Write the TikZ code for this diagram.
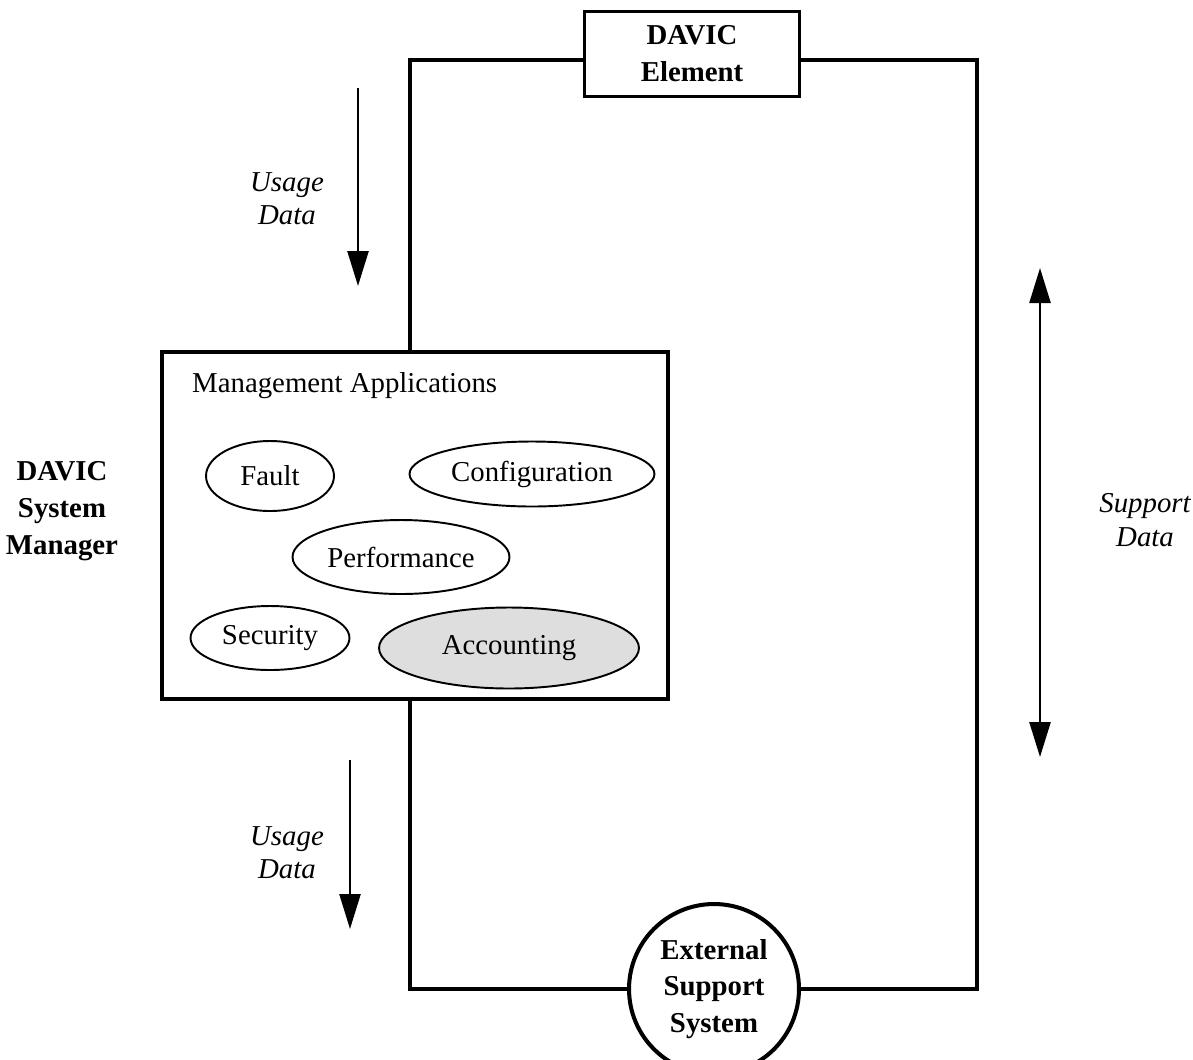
\documentclass[tikz,border=0pt]{standalone}
\usepackage{fontspec}
\setmainfont{Liberation Serif}
\usetikzlibrary{arrows.meta,shapes.geometric,positioning}

\newcommand{\figfont}{\fontsize{16.4}{21}\selectfont}

\tikzset{
  loopline/.style={line width=2.3pt},
  unit/.style={draw, line width=1.8pt, align=center, font=\figfont\bfseries},
  app/.style={draw, ellipse, line width=1.1pt, inner sep=0pt},
  flow/.style={line width=1.4pt, -{Triangle[length=0.7cm,width=0.42cm]}},
  lbl/.style={align=center, font=\fontsize{16.4}{19}\selectfont\itshape},
}

\begin{document}
\begin{tikzpicture}[x=0.02cm,y=-0.02cm,
  every node/.append style={font=\figfont}]
\useasboundingbox (0,0) rectangle (1193,1059);
% element and manager
\node[unit, minimum width=4.3cm, minimum height=1.7cm] (elem) at (692,54) {DAVIC\\Element};
\node[draw, line width=1.8pt, minimum width=10.12cm, minimum height=6.94cm] (mgr) at (415,525.5) {};
\node[anchor=west] (mgrtitle) at (186,386) {Management Applications};
\node[align=center, font=\figfont\bfseries] (mgrlbl) at (62,511) {DAVIC\\System\\Manager};
% applications
\node[app, minimum width=2.56cm, minimum height=1.4cm] (fault) at (270,476) {Fault};
\node[app, minimum width=4.9cm, minimum height=1.3cm] (config) at (532,474) {Configuration};
\node[app, minimum width=4.34cm, minimum height=1.48cm] (perf) at (401,557) {Performance};
\node[app, minimum width=3.18cm, minimum height=1.28cm] (secur) at (270,638) {Security};
\node[app, fill=black!13, minimum width=5.2cm, minimum height=1.62cm] (acct) at (509,648) {Accounting};
% external system
\node[draw, circle, line width=2.3pt, minimum size=3.4cm, align=center, inner sep=0pt, font=\figfont\bfseries] (esys) at (714,989) {External\\Support\\System};
% loop
\coordinate (ctl) at (410,60);
\coordinate (ctr) at (977,60);
\coordinate (cbr) at (977,989);
\coordinate (cbl) at (410,989);
\draw[loopline] (ctl -| elem.west) -- (ctl) -- (ctl |- mgr.north);
\draw[loopline] (ctr -| elem.east) -- (ctr) -- (cbr) -- (esys.east);
\draw[loopline] (esys.west) -- (cbl) -- (cbl |- mgr.south);
% data flows
\coordinate (u1a) at (358,88);
\coordinate (u1b) at (358,286);
\draw[flow] (u1a) -- (u1b);
\node[lbl] (u1lbl) at (287,199) {Usage\\Data};
\coordinate (u2a) at (350,760);
\coordinate (u2b) at (350,929);
\draw[flow] (u2a) -- (u2b);
\node[lbl] (u2lbl) at (287,853) {Usage\\Data};
\coordinate (s1) at (1040,268);
\coordinate (s2) at (1040,757);
\draw[flow, {Triangle[length=0.7cm,width=0.42cm]}-{Triangle[length=0.7cm,width=0.42cm]}] (s1) -- (s2);
\node[lbl] (slbl) at (1145,520) {Support\\Data};
\end{tikzpicture}
\end{document}
